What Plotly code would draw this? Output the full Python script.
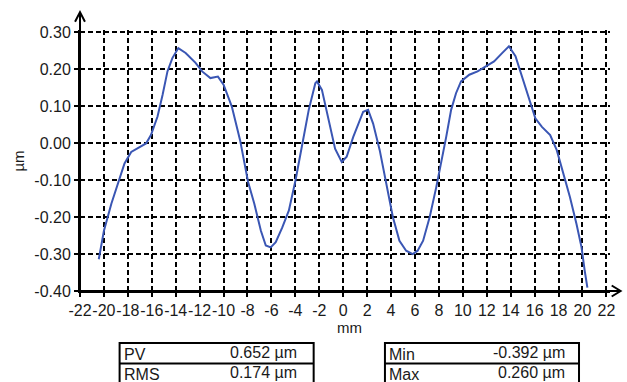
import plotly.graph_objects as go

# ---------------- data ----------------
x_mm = [-20.43, -20.0, -19.38, -18.75, -18.28, -17.72, -17.03, -16.48, -16.07, -15.52,
        -15.1, -14.69, -14.28, -13.78, -13.17, -12.34, -11.79, -11.10, -10.47, -10.0,
        -9.31, -8.62, -7.95, -7.43, -6.88, -6.47, -6.06, -5.64, -5.09, -4.54,
        -3.99, -3.43, -2.88, -2.33, -2.19, -1.78, -1.23, -0.68, -0.12, 0.29,
        0.84, 1.26, 1.67, 2.08, 2.50, 3.05, 3.60, 4.15, 4.70, 5.26,
        5.81, 6.22, 6.68, 7.23, 7.78, 8.19, 8.61, 9.02, 9.43, 9.85,
        10.54, 11.23, 11.92, 12.61, 13.30, 13.85, 14.40, 14.95, 15.50, 16.06,
        16.61, 17.30, 17.85, 18.40, 18.95, 19.50, 19.92, 20.19, 20.41]
height_um = [-0.314, -0.237, -0.164, -0.100, -0.055, -0.024, -0.010, -0.001, 0.022, 0.072,
             0.130, 0.194, 0.230, 0.257, 0.244, 0.217, 0.194, 0.176, 0.180, 0.158,
             0.099, 0.008, -0.105, -0.164, -0.237, -0.277, -0.282, -0.268, -0.228, -0.182,
             -0.101, -0.001, 0.090, 0.162, 0.167, 0.144, 0.062, -0.015, -0.051, -0.037,
             0.017, 0.053, 0.085, 0.090, 0.053, -0.019, -0.110, -0.200, -0.264, -0.291,
             -0.300, -0.291, -0.264, -0.200, -0.119, -0.055, 0.017, 0.090, 0.135, 0.167,
             0.185, 0.194, 0.208, 0.221, 0.244, 0.262, 0.235, 0.180, 0.126, 0.067,
             0.044, 0.022, -0.019, -0.083, -0.146, -0.219, -0.282, -0.346, -0.391]

x_ticks = list(range(-22, 23, 2))
x_tick_labels = [str(v) for v in x_ticks]
y_ticks = [-0.40, -0.30, -0.20, -0.10, 0.00, 0.10, 0.20, 0.30]
y_tick_labels = ["-0.40", "-0.30", "-0.20", "-0.10", "0.00", "0.10", "0.20", "0.30"]

stats_left_labels = ["PV", "RMS"]
stats_left_values = ["0.652 \u00b5m", "0.174 \u00b5m"]
stats_right_labels = ["Min", "Max"]
stats_right_values = ["-0.392 \u00b5m", "0.260 \u00b5m"]

# ---------------- layout geometry ----------------
W, H = 627, 382
ML, MR, MT, MB = 80, 11.7, 30.3, 91.3
PW, PH = W - ML - MR, H - MT - MB
AXIS_Y = H - MB


def px(x):
    return (x - ML) / PW


def py(y):
    return (H - MB - y) / PH


FONT = "Liberation Sans, Arial, sans-serif"
TXT = "#1a1a1a"

fig = go.Figure()
fig.add_trace(go.Scatter(x=x_mm, y=height_um, mode="lines",
                         line=dict(color="#3a56b4", width=2), hoverinfo="skip",
                         showlegend=False))

grid = dict(showgrid=True, gridcolor="black", gridwidth=2, griddash="5px,3px",
            zeroline=False, showline=True, linecolor="black", linewidth=2,
            ticks="outside", ticklen=4, tickwidth=2, tickcolor="black",
            tickangle=0,
            tickfont=dict(family=FONT, size=16, color=TXT))

fig.update_xaxes(range=[-22, 22.3], tickmode="array", tickvals=x_ticks,
                 ticktext=x_tick_labels, **grid)
fig.update_yaxes(range=[-0.40, 0.306], tickmode="array", tickvals=y_ticks,
                 ticktext=y_tick_labels, **grid)

line_style = dict(color="black", width=2)
shapes = [
    # axis extensions with arrowheads
    dict(type="line", xref="paper", yref="paper", x0=px(80), x1=px(80),
         y0=py(AXIS_Y), y1=py(13), line=line_style),
    dict(type="path", xref="paper", yref="paper",
         path=f"M {px(75)},{py(22)} L {px(80)},{py(12.5)} L {px(85)},{py(22)}",
         line=line_style),
    dict(type="line", xref="paper", yref="paper", x0=px(80), x1=px(625),
         y0=py(AXIS_Y), y1=py(AXIS_Y), line=line_style),
    dict(type="path", xref="paper", yref="paper",
         path=(f"M {px(617)},{py(AXIS_Y - 5.5)} L {px(626)},{py(AXIS_Y)} "
               f"L {px(617)},{py(AXIS_Y + 5.5)}"),
         line=line_style),
]

annotations = [
    dict(text="mm", x=px(352), y=py(327.5), xref="paper", yref="paper",
         xanchor="center", yanchor="middle",
         showarrow=False, font=dict(family=FONT, size=15, color=TXT)),
    dict(text="\u00b5m", x=px(17), y=py(161), xref="paper", yref="paper",
         xanchor="center", yanchor="middle",
         showarrow=False, textangle=-90, font=dict(family=FONT, size=15, color=TXT)),
]

tables = [
    (120, 316, 301, stats_left_labels, stats_left_values),
    (388, 584, 572, stats_right_labels, stats_right_values),
]
row_top, row_h = 342.5, 20.5
for x0, x1, xv, labels, values in tables:
    shapes.append(dict(type="rect", xref="paper", yref="paper",
                       x0=px(x0), x1=px(x1), y0=py(row_top), y1=py(row_top + 3 * row_h),
                       line=line_style, fillcolor="rgba(0,0,0,0)"))
    for i, (lab, val) in enumerate(zip(labels, values)):
        if i > 0:
            yy = row_top + i * row_h
            shapes.append(dict(type="line", xref="paper", yref="paper",
                               x0=px(x0), x1=px(x1), y0=py(yy), y1=py(yy),
                               line=line_style))
        yc = row_top + (i + 0.5) * row_h
        annotations.append(dict(text=lab, x=px(x0 + 2), y=py(yc + 1), xref="paper",
                                yref="paper", xanchor="left", yanchor="middle",
                                showarrow=False,
                                font=dict(family=FONT, size=16, color=TXT)))
        annotations.append(dict(text=val, x=px(xv), y=py(yc - 1), xref="paper",
                                yref="paper", xanchor="right", yanchor="middle",
                                showarrow=False,
                                font=dict(family=FONT, size=16, color=TXT)))

fig.update_layout(width=W, height=H, autosize=False,
                  margin=dict(l=ML, r=MR, t=MT, b=MB, pad=0),
                  paper_bgcolor="white", plot_bgcolor="white",
                  shapes=shapes, annotations=annotations)

fig.write_html("out.html")
